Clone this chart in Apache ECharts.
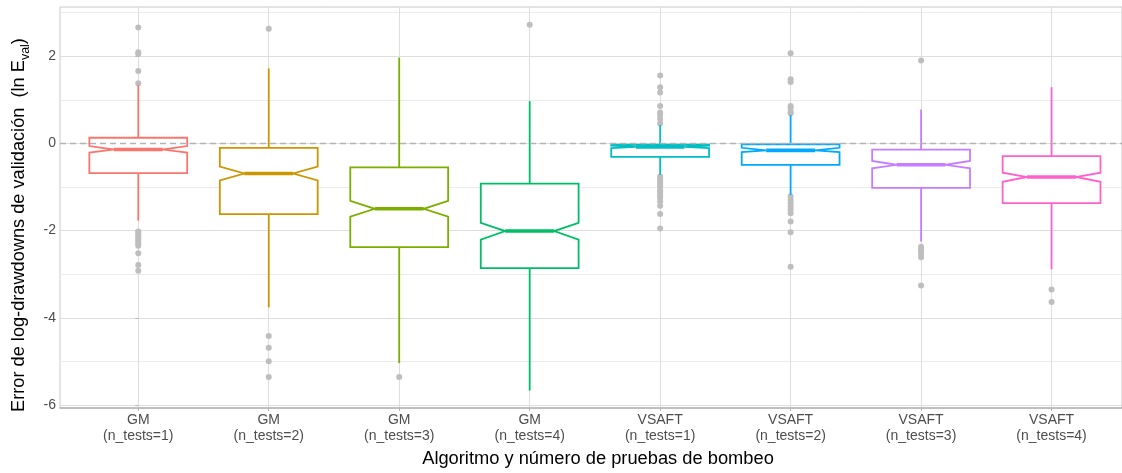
<!DOCTYPE html>
<html>
<head>
<meta charset="utf-8">
<script src="https://cdn.jsdelivr.net/npm/echarts@6/dist/echarts.min.js"></script>
<style>
html,body{margin:0;padding:0;background:#fff;}
#chart{width:1122px;height:473px;}
</style>
</head>
<body>
<div id="chart"></div>
<script>
// ---- data ----
const categories = ['GM\n(n_tests=1)','GM\n(n_tests=2)','GM\n(n_tests=3)','GM\n(n_tests=4)',
                    'VSAFT\n(n_tests=1)','VSAFT\n(n_tests=2)','VSAFT\n(n_tests=3)','VSAFT\n(n_tests=4)'];
const colors = ['#F8766D','#CD9600','#7CAE00','#00BE67','#00BFC4','#00A9FF','#C77CFF','#FF61CC'];
const whiskerLow  = [-1.77, -3.76, -5.04, -5.67, -0.72, -1.18, -2.25, -2.89];
const q1          = [-0.68, -1.62, -2.38, -2.86, -0.31, -0.49, -1.02, -1.37];
const notchLow    = [-0.21, -0.85, -1.68, -2.21, -0.11, -0.20, -0.57, -0.88];
const median      = [-0.14, -0.69, -1.50, -2.01, -0.08, -0.16, -0.49, -0.77];
const notchHigh   = [-0.06, -0.53, -1.32, -1.82, -0.05, -0.10, -0.40, -0.67];
const q3          = [ 0.13, -0.10, -0.55, -0.92, -0.03, -0.02, -0.14, -0.29];
const whiskerHigh = [ 1.34,  1.72,  1.97,  0.97,  0.42,  0.65,  0.78,  1.29];
const outliers = [
  [2.66, 2.09, 2.05, 1.66, 1.38, -2.02, -2.06, -2.10, -2.15, -2.20, -2.25, -2.30, -2.35, -2.52, -2.79, -2.92],
  [2.63, -4.42, -4.69, -5.00, -5.36],
  [-5.36],
  [2.72],
  [1.56, 1.29, 1.17, 0.86, 0.71, 0.65, 0.56, 0.46, -0.76, -0.80, -0.85, -0.90, -0.96, -0.99, -1.07, -1.10, -1.15, -1.20, -1.25, -1.33, -1.43, -1.62, -1.95],
  [2.07, 1.47, 1.41, 0.86, 0.81, 0.72, 0.69, -1.22, -1.30, -1.37, -1.45, -1.52, -1.60, -1.79, -2.04, -2.83],
  [1.90, -2.37, -2.42, -2.47, -2.53, -2.61, -3.26],
  [-3.35, -3.64]
];
const yMajorTicks = [-6, -4, -2, 0, 2];
const yMinorTicks = [-5, -3, -1, 1, 3];
const xTicks = [0, 1, 2, 3, 4, 5, 6, 7];
const refLine = 0;

// ---- build ----
const boxData = categories.map((c, i) => [i, whiskerLow[i], q1[i], notchLow[i], median[i], notchHigh[i], q3[i], whiskerHigh[i]]);
const outlierData = [];
outliers.forEach((arr, i) => arr.forEach(v => outlierData.push([i, v])));

const HW = 0.375, NW = 0.1875;
function renderBox(params, api) {
  const i = api.value(0);
  const col = colors[i];
  const v = k => api.value(k);
  const P = (x, y) => api.coord([x, y]);
  const wl = v(1), lo = v(2), nlo = v(3), md = v(4), nhi = v(5), hi = v(6), wh = v(7);
  const poly = [
    P(i - HW, hi), P(i + HW, hi), P(i + HW, nhi), P(i + NW, md), P(i + HW, nlo),
    P(i + HW, lo), P(i - HW, lo), P(i - HW, nlo), P(i - NW, md), P(i - HW, nhi)
  ];
  const ls = {stroke: col, lineWidth: 1.8, fill: null};
  return {
    type: 'group',
    children: [
      {type: 'line', shape: {x1: P(i, hi)[0], y1: P(i, hi)[1], x2: P(i, wh)[0], y2: P(i, wh)[1]}, style: ls},
      {type: 'line', shape: {x1: P(i, lo)[0], y1: P(i, lo)[1], x2: P(i, wl)[0], y2: P(i, wl)[1]}, style: ls},
      {type: 'polygon', shape: {points: poly}, style: {stroke: col, lineWidth: 1.8, fill: '#ffffff', lineJoin: 'miter'}},
      {type: 'line', shape: {x1: P(i - NW, md)[0], y1: P(i, md)[1], x2: P(i + NW, md)[0], y2: P(i, md)[1]}, style: {stroke: col, lineWidth: 3.6}}
    ]
  };
}

const gridLines = [];
yMajorTicks.forEach(t => gridLines.push({yAxis: t, lineStyle: {color: '#DEDEDE', width: 1.1, type: 'solid'}}));
yMinorTicks.forEach(t => gridLines.push({yAxis: t, lineStyle: {color: '#E6E6E6', width: 0.8, type: 'solid'}}));
xTicks.forEach(t => gridLines.push({xAxis: t, lineStyle: {color: '#DEDEDE', width: 1.1, type: 'solid'}}));

const FONT = 'Liberation Sans, Arial, sans-serif';
const chart = echarts.init(document.getElementById('chart'), null, {renderer: 'canvas'});
chart.setOption({
  animation: false,
  backgroundColor: '#ffffff',
  textStyle: {fontFamily: FONT},
  grid: {left: 60, right: 0, top: 7, bottom: 65, show: true, borderColor: '#C8C8C8', borderWidth: 1,
         backgroundColor: 'transparent', containLabel: false, outerBoundsMode: 'none'},
  xAxis: {
    type: 'value', min: -0.6, max: 7.54,
    name: 'Algoritmo y número de pruebas de bombeo',
    nameLocation: 'middle', nameGap: 42,
    nameTextStyle: {fontFamily: FONT, fontSize: 18.3, color: '#000000', padding: [0, 0, 0, 14]},
    axisLine: {show: true, onZero: false, lineStyle: {color: '#B3B3B3', width: 1.5}},
    axisTick: {show: true, length: 3, customValues: xTicks, lineStyle: {color: '#B3B3B3'}},
    axisLabel: {customValues: xTicks, margin: 4, fontFamily: FONT, fontSize: 14, lineHeight: 16, color: '#4D4D4D',
                formatter: v => categories[Math.round(v)] || ''},
    splitLine: {show: false}
  },
  yAxis: {
    type: 'value', min: -6.07, max: 3.13,
    name: 'Error de log-drawdowns de validación  (ln E{sub|val})',
    nameLocation: 'middle', nameGap: 30, nameRotate: 90,
    nameTextStyle: {fontFamily: FONT, fontSize: 18.2, color: '#000000', lineHeight: 22, padding: [0, 35, 0, 0],
      rich: {sub: {fontFamily: FONT, fontSize: 12.5, color: '#000000', verticalAlign: 'bottom', lineHeight: 22, padding: [0, 0, -2, 0]}}},
    axisLine: {show: false},
    axisTick: {show: true, length: 3, customValues: yMajorTicks, lineStyle: {color: '#B3B3B3'}},
    axisLabel: {customValues: yMajorTicks, margin: 4, fontFamily: FONT, fontSize: 14, color: '#4D4D4D'},
    splitLine: {show: false}
  },
  series: [
    {
      type: 'line', data: [], silent: true, z: 0,
      markLine: {silent: true, z: 0, symbol: 'none', label: {show: false}, animation: false, data: gridLines}
    },
    {
      type: 'scatter', data: outlierData, symbol: 'circle', symbolSize: 6, z: 2,
      itemStyle: {color: '#BEBEBE', opacity: 1}, silent: true
    },
    {
      type: 'custom', data: boxData, renderItem: renderBox, z: 3,
      encode: {x: 0, y: [1, 2, 3, 4, 5, 6, 7]}, silent: true
    },
    {
      type: 'line', data: [], silent: true, z: 5,
      markLine: {silent: true, z: 10, symbol: 'none', label: {show: false}, animation: false,
        data: [{yAxis: refLine, lineStyle: {color: '#B3B3B3', width: 1.3, type: [6, 4]}}]}
    }
  ]
});
</script>
</body>
</html>
